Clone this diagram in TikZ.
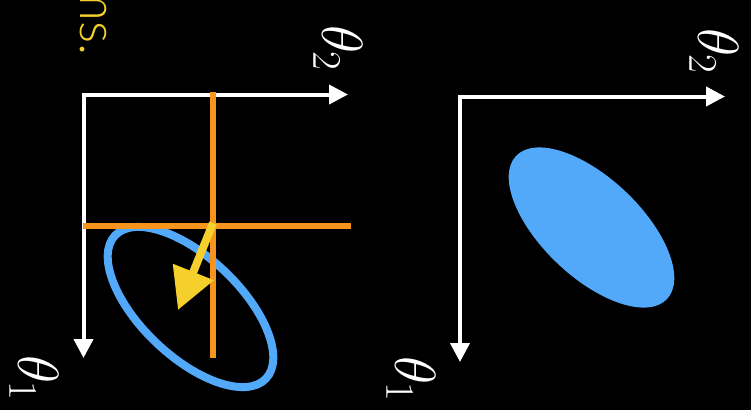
\RequirePackage{fix-cm}
\documentclass[tikz,border=0pt]{standalone}
\usepackage{fontspec}
\usepackage{tikz}
\usetikzlibrary{arrows.meta,shapes.geometric,positioning}
\newfontfamily\notefont{Lato Light}
\definecolor{lossblue}{RGB}{82,169,250}
\definecolor{cutorange}{RGB}{247,148,30}
\definecolor{stepyellow}{RGB}{245,208,45}

\begin{document}
\begin{tikzpicture}[x=1pt, y=-1pt,
    axis/.style={white, line width=4pt, {Triangle[length=19pt,width=19pt]}-{Triangle[length=19pt,width=19pt]}},
    cut/.style={cutorange, line width=6pt},
    lbl/.style={white, rotate=-90, inner sep=0pt, anchor=base west, font=\fontsize{58}{60}\selectfont},
    level/.style={ellipse, rotate=-43.5, minimum width=208pt, minimum height=99pt, inner sep=0pt}]
    \fill[black] (0,0) rectangle (751,410);
    \useasboundingbox (0,0) rectangle (751,410);

    \coordinate (oL) at (83.5,94.5);
    \coordinate (t2L) at (348,94.5);
    \coordinate (t1L) at (83.5,358);
    \coordinate (vTop) at (213,92);
    \coordinate (vBot) at (213,358);
    \coordinate (hL) at (83,226);
    \coordinate (hR) at (351,226);
    \coordinate (gTail) at (213,223);
    \coordinate (gTip) at (178,310);
    \node[level, draw=lossblue, line width=8pt] (ringL) at (190.5,307) {};
    \draw[axis] (t1L) -- (oL) -- (t2L);
    \draw[cut] (vTop) -- (vBot);
    \draw[cut] (hL) -- (hR);
    \draw[stepyellow, line width=8pt, -{Triangle[length=41pt,width=42pt]}] (gTail) -- (gTip);
    \node[lbl] (th2L) at (322,25) {$\theta_2$};
    \node[lbl] (th1L) at (18,355) {$\theta_1$};
    \node[text=stepyellow, rotate=-90, anchor=base east, inner sep=0pt, font=\notefont\fontsize{52}{56}\selectfont] (note) at (80,56) {ms.};

    \coordinate (oR) at (460,96.5);
    \coordinate (t2R) at (725,96.5);
    \coordinate (t1R) at (460,362);
    \node[level, fill=lossblue] (blobR) at (591.5,227.5) {};
    \draw[axis] (t1R) -- (oR) -- (t2R);
    \node[lbl] (th2R) at (698,28) {$\theta_2$};
    \node[lbl] (th1R) at (395,356) {$\theta_1$};
\end{tikzpicture}
\end{document}
